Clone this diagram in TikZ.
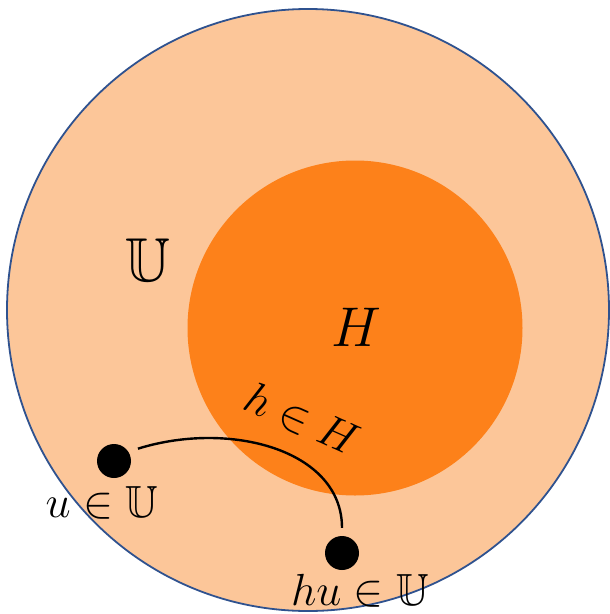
\RequirePackage{fix-cm}
\documentclass[tikz,border=0pt]{standalone}
\usepackage{amssymb}
\definecolor{outerfill}{RGB}{252,198,153}
\definecolor{innerfill}{RGB}{253,129,26}
\definecolor{rimblue}{RGB}{47,82,143}
\tikzset{
  dotnode/.style={circle,fill=black,minimum size=34pt,inner sep=0pt},
  bigtxt/.style={font=\fontsize{56}{60}\selectfont,inner sep=0pt},
  lbltxt/.style={font=\fontsize{45}{50}\selectfont,inner sep=0pt},
  linkcurve/.style={line width=2.4pt,black}
}
\begin{document}
\begin{tikzpicture}[x=1pt,y=-1pt]
\useasboundingbox (0,0) rectangle (610,614);
\node[circle,fill=outerfill,draw=rimblue,line width=1.8pt,minimum size=602pt,inner sep=0pt] (outer) at (308,310) {};
\node[circle,fill=innerfill,minimum size=335pt,inner sep=0pt] (inner) at (355,328) {};
\node[bigtxt,font=\fontsize{62}{66}\selectfont,anchor=base] (Ulbl) at (148,281) {$\mathbb{U}$};
\node[bigtxt,anchor=base] (Hlbl) at (356,346) {$H$};
\node[lbltxt,rotate=-24] (hlbl) at (302,419) {$h\in H$};
\node[dotnode] (u) at (114,461) {};
\node[dotnode] (hu) at (342,553) {};
\node[lbltxt,anchor=base] (ulbl) at (102,517) {$u\in\mathbb{U}$};
\node[lbltxt,anchor=base] (hulbl) at (360,605) {$hu\in\mathbb{U}$};
\draw[linkcurve,shorten <=10pt,shorten >=8pt] (u.33) .. controls (230,420) and (342,450) .. (hu.north);
\end{tikzpicture}
\end{document}
